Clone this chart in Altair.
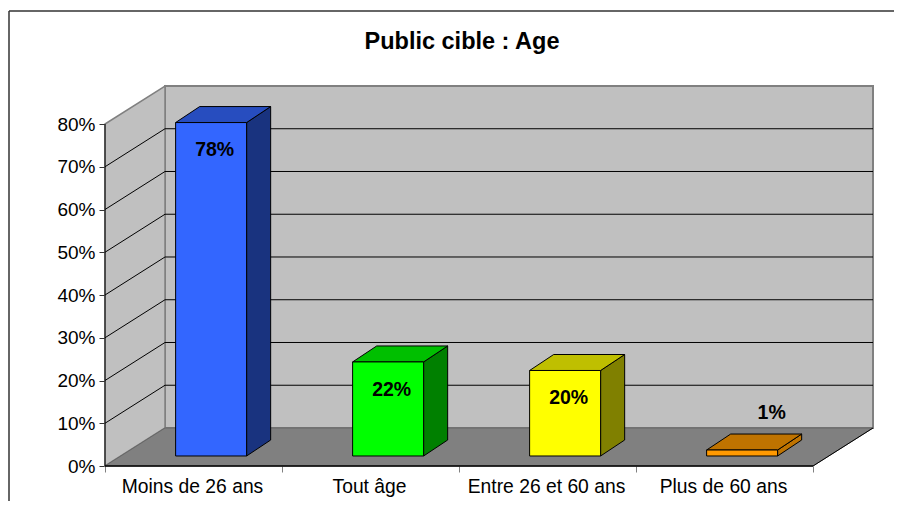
import altair as alt
import pandas as pd

# ---- values ----
categories = ["Moins de 26 ans", "Tout âge", "Entre 26 et 60 ans", "Plus de 60 ans"]
values = [78, 22, 20, 1.4]
value_labels = ["78%", "22%", "20%", "1%"]
front_colors = ["#3366FF", "#00FF00", "#FFFF00", "#FF9900"]
side_colors = ["#19337F", "#008000", "#808000", "#BF7300"]
top_colors = ["#274DBF", "#00BF00", "#BFBF00", "#BF7300"]
y_ticks = [0, 10, 20, 30, 40, 50, 60, 70, 80]
x_ticks = [0, 1, 2, 3, 4]
title_text = "Public cible : Age"

# ---- pseudo-3D projection, in data units ----
Y_MAX = 80
N = len(categories)
WALL_DX, WALL_DY = 0.339, 8.89      # depth of the floor
BAR_DX, BAR_DY = 0.136, 3.74        # depth of a bar
INSET_Y = 2.34                      # bar stands inside the floor
BAR_L, BAR_W = 0.399, 0.401         # position in its category slot

GREY = "#808080"
FONT = "Liberation Sans"

x_scale = alt.Scale(domain=[0, N + WALL_DX], nice=False, zero=False)
y_scale = alt.Scale(domain=[0, Y_MAX + WALL_DY], nice=False, zero=False)
x_axis_def = alt.Axis(
    values=x_ticks, labels=False, title=None, grid=False, domain=False,
    tickColor=GREY, tickSize=6,
)
y_axis_def = alt.Axis(
    values=y_ticks, labelExpr="datum.value + '%'", title=None, grid=False, domain=False,
    tickColor="#333333", tickSize=6, labelFont=FONT, labelFontSize=19, labelColor="#000000",
    labelPadding=4, labelOverlap=False, labelFlush=False,
)
X = lambda f="x", **k: alt.X(f"{f}:Q", scale=x_scale, axis=x_axis_def, **k)
Y = lambda f="y", **k: alt.Y(f"{f}:Q", scale=y_scale, axis=y_axis_def, **k)

# walls and floor
back = alt.Chart(pd.DataFrame([{"x": WALL_DX, "x2": N + WALL_DX, "y": WALL_DY, "y2": Y_MAX + WALL_DY}])).mark_rect(
    fill="#C0C0C0", stroke=GREY, strokeWidth=2
).encode(x=X(), x2="x2:Q", y=Y(), y2="y2:Q")

left_wall = alt.Chart(pd.DataFrame([
    {"x": 0, "y": 0, "y2": Y_MAX},
    {"x": WALL_DX, "y": WALL_DY, "y2": Y_MAX + WALL_DY},
])).mark_area(fill="#C0C0C0", stroke=GREY, strokeWidth=1.5, orient="vertical").encode(
    x=X(), y=Y(stack=None), y2="y2:Q"
)

floor = alt.Chart(pd.DataFrame([
    {"y": 0, "x": 0, "x2": N},
    {"y": WALL_DY, "x": WALL_DX, "x2": N + WALL_DX},
])).mark_area(fill=GREY, stroke="#666666", strokeWidth=1, orient="horizontal").encode(
    y=Y(), x=X(stack=None), x2="x2:Q"
)

# grid lines: along the left wall, then across the back wall
grid_rows = []
for t in y_ticks[1:]:
    if t < Y_MAX:
        grid_rows += [
            {"t": t, "x": 0, "y": t},
            {"t": t, "x": WALL_DX, "y": t + WALL_DY},
            {"t": t, "x": N + WALL_DX, "y": t + WALL_DY},
        ]
grid = alt.Chart(pd.DataFrame(grid_rows)).mark_line(color="#000000", strokeWidth=1).encode(
    x=X(), y=Y(), detail="t:N"
)

# floor front-right edge (black diagonal) and front left edge
edge = alt.Chart(pd.DataFrame([
    {"x": N, "y": 0}, {"x": N + WALL_DX, "y": WALL_DY}
])).mark_line(color="#000000", strokeWidth=1).encode(x=X(), y=Y())
edge_left = alt.Chart(pd.DataFrame([
    {"x": 0, "y": 0}, {"x": 0, "y": Y_MAX}
])).mark_line(color="#000000", strokeWidth=1).encode(x=X(), y=Y())

# bars
front_rows, side_rows, top_rows, label_rows = [], [], [], []
for i, (c, v, lab) in enumerate(zip(categories, values, value_labels)):
    l, r = i + BAR_L, i + BAR_L + BAR_W
    b, t = INSET_Y, INSET_Y + v
    front_rows.append({"c": c, "x": l, "x2": r, "y": b, "y2": t, "fill": front_colors[i]})
    side_rows += [
        {"c": c, "x": r, "y": b, "y2": t, "fill": side_colors[i]},
        {"c": c, "x": r + BAR_DX, "y": b + BAR_DY, "y2": t + BAR_DY, "fill": side_colors[i]},
    ]
    top_rows += [
        {"c": c, "y": t, "x": l, "x2": r, "fill": top_colors[i]},
        {"c": c, "y": t + BAR_DY, "x": l + BAR_DX, "x2": r + BAR_DX, "fill": top_colors[i]},
    ]
    tall = v > 5
    label_rows.append({
        "x": (l + r) / 2 + (0.02 if tall else 0.167),
        "y": t - 6.5 if tall else t + 8.7,
        "label": lab,
    })

fill = alt.Fill("fill:N", scale=None, legend=None)
BAR_STROKE = dict(stroke="#000000", strokeWidth=1)

fronts = alt.Chart(pd.DataFrame(front_rows)).mark_rect(**BAR_STROKE).encode(
    x=X(), x2="x2:Q", y=Y(), y2="y2:Q", fill=fill
)
sides = alt.Chart(pd.DataFrame(side_rows)).mark_area(orient="vertical", **BAR_STROKE).encode(
    x=X(), y=Y(stack=None), y2="y2:Q", fill=fill, detail="c:N"
)
tops = alt.Chart(pd.DataFrame(top_rows)).mark_area(orient="horizontal", **BAR_STROKE).encode(
    y=Y(), x=X(stack=None), x2="x2:Q", fill=fill, detail="c:N",
)
bar_labels = alt.Chart(pd.DataFrame(label_rows)).mark_text(
    font=FONT, fontSize=19.5, fontWeight="bold", color="#000000", baseline="middle"
).encode(x=X(), y=Y(), text="label:N")

# axis line and category labels
baseline = alt.Chart(pd.DataFrame([{"x": 0, "y": 0}, {"x": N, "y": 0}])).mark_line(
    color="#000000", strokeWidth=1.5
).encode(x=X(), y=Y())
x_labels = alt.Chart(pd.DataFrame({"x": [i + 0.5 for i in range(N)], "y": [0] * N, "c": categories})).mark_text(
    font=FONT, fontSize=19.3, color="#000000", baseline="middle", dy=21, dx=-1
).encode(x=X(), y=Y(), text="c:N")

# frame of the chart area (only top and left edges are on the page)
frame_top = alt.Chart(pd.DataFrame({"a": [0]})).mark_rule(color="#333333", strokeWidth=1.5).encode(
    x=alt.value(-96), x2=alt.value(800), y=alt.value(-75)
)
frame_left = alt.Chart(pd.DataFrame({"a": [0]})).mark_rule(color="#333333", strokeWidth=1.5).encode(
    x=alt.value(-96), y=alt.value(-75), y2=alt.value(430)
)
title = alt.Chart(pd.DataFrame({"t": [title_text]})).mark_text(
    font=FONT, fontSize=23.5, fontWeight="bold", color="#000000", baseline="middle"
).encode(x=alt.value(357), y=alt.value(-44.5), text="t:N")

chart = alt.layer(
    back, left_wall, floor, grid, edge, edge_left,
    sides, tops, fronts, bar_labels,
    baseline, x_labels,
    frame_top, frame_left, title,
).properties(
    width=768, height=380,
    padding={"left": 97, "top": 78, "right": 21, "bottom": 35},
    autosize=alt.AutoSizeParams(type="none"),
    background="#FFFFFF",
).configure_view(stroke=None)

chart.save("out.html", embed_options={"renderer": "svg", "actions": False})
